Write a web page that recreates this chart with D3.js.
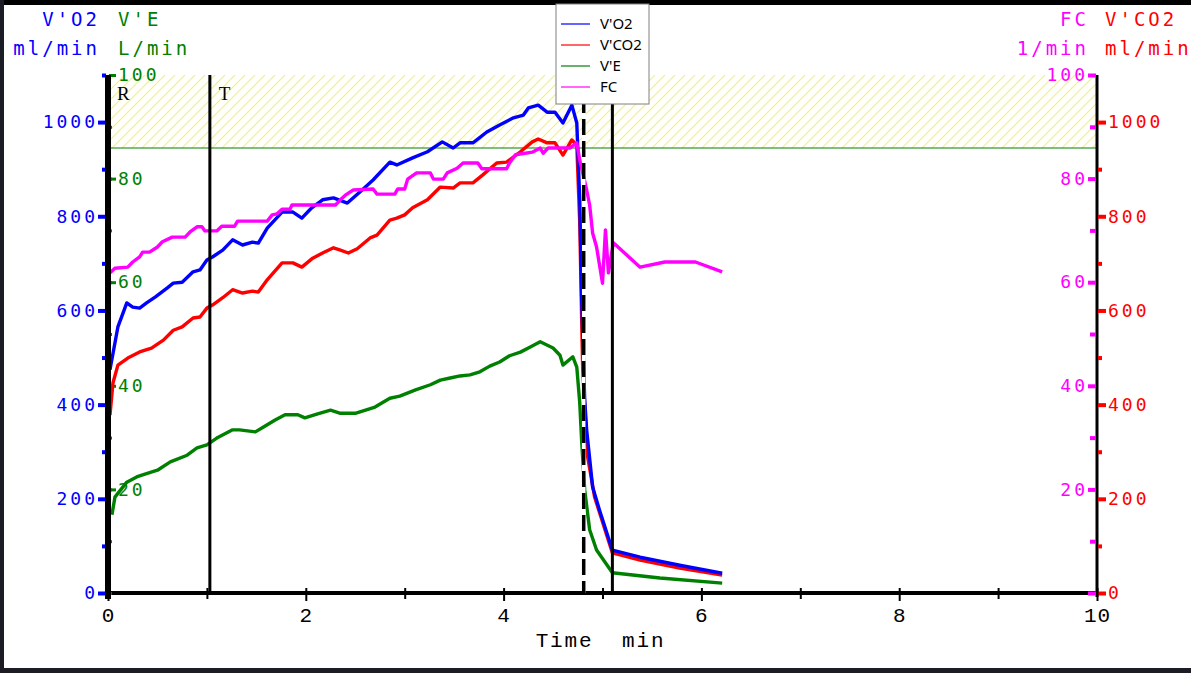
<!DOCTYPE html>
<html lang="en">
  <head>
    <meta charset="UTF-8" />
    <title>Cardiopulmonary exercise test</title>
    <script src="https://d3js.org/d3.v7.min.js"></script>
    <style>
      body { margin: 0; background: #fff; }
      svg { display: block; }
      .mono { font-family: "DejaVu Sans Mono", monospace; }
      .xlab { font-family: "Liberation Mono", monospace; }
    </style>
  </head>
  <body>
    <svg width="1191" height="673"></svg>
    <script>
      // time (min) and values
      const vo2T = [0.02,0.07,0.10,0.19,0.25,0.32,0.39,0.48,0.60,0.66,0.75,0.86,0.93,1.00,1.06,1.16,1.26,1.36,1.46,1.52,1.61,1.76,1.87,1.96,2.06,2.17,2.28,2.42,2.55,2.68,2.85,2.92,3.08,3.23,3.38,3.49,3.56,3.69,3.83,3.96,4.10,4.20,4.25,4.35,4.44,4.52,4.60,4.69,4.74,4.77,4.79,4.82,4.84,4.90,4.97,5.10,5.38,5.78,6.21];
      const vo2 = [474,531,565,616,607,605,616,629,648,658,660,682,686,707,714,728,750,739,745,743,775,809,809,796,818,835,839,828,852,877,915,909,924,937,958,945,956,956,979,994,1009,1015,1030,1036,1021,1021,998,1036,998,835,622,410,346,225,176,91,76,59,42];

      const vco2T = [0.02,0.05,0.10,0.20,0.32,0.44,0.56,0.66,0.75,0.86,0.93,1.00,1.06,1.16,1.26,1.36,1.46,1.52,1.61,1.76,1.87,1.96,2.07,2.17,2.28,2.35,2.43,2.52,2.65,2.72,2.85,2.92,3.00,3.08,3.23,3.36,3.49,3.56,3.69,3.79,3.93,4.03,4.17,4.29,4.35,4.44,4.52,4.60,4.69,4.74,4.77,4.79,4.80,4.85,4.92,5.10,5.38,5.78,6.21];
      const vco2 = [378,446,484,499,512,520,537,558,565,584,586,605,612,627,644,637,641,639,665,701,701,692,711,722,733,728,722,731,754,760,792,796,803,818,835,862,860,871,871,888,913,915,937,958,964,956,956,930,962,951,786,573,474,289,204,85,70,53,38];

      const veT = [0.04,0.07,0.19,0.29,0.35,0.50,0.63,0.80,0.90,1.00,1.10,1.26,1.33,1.49,1.56,1.69,1.79,1.92,1.99,2.12,2.25,2.35,2.50,2.70,2.85,2.95,3.11,3.26,3.36,3.46,3.56,3.66,3.76,3.86,3.96,4.06,4.17,4.27,4.37,4.50,4.57,4.60,4.70,4.74,4.77,4.79,4.82,4.87,4.94,5.10,5.58,6.21];
      const ve = [15.1,18.5,21.4,22.4,22.8,23.7,25.3,26.6,28.0,28.6,29.9,31.5,31.5,31.1,31.9,33.4,34.4,34.4,33.8,34.6,35.3,34.7,34.7,35.9,37.6,38.0,39.2,40.2,41.1,41.5,41.9,42.1,42.7,43.8,44.6,45.8,46.5,47.5,48.5,47.3,45.9,44.0,45.6,43.6,36.7,29.0,19.9,12.2,8.3,3.9,2.9,1.9];

      const fcT = [0.02,0.07,0.20,0.25,0.32,0.35,0.42,0.50,0.55,0.65,0.78,0.83,0.90,0.95,0.98,1.10,1.15,1.28,1.31,1.61,1.66,1.71,1.76,1.84,1.86,2.30,2.35,2.40,2.48,2.68,2.72,2.90,2.93,3.00,3.03,3.12,3.26,3.29,3.39,3.43,3.53,3.59,3.74,3.78,4.03,4.06,4.12,4.29,4.37,4.40,4.45,4.67,4.74,4.77,4.84,4.87,4.90,4.94,5.00,5.03,5.06,5.11,5.38,5.63,5.94,6.21];
      const fc = [61.8,62.7,62.9,63.9,64.9,65.8,65.8,66.8,67.8,68.7,68.7,69.7,70.7,70.7,69.9,69.9,70.8,70.8,71.8,71.8,73.0,73.2,74.1,74.1,74.9,74.9,75.9,76.8,77.8,78.0,77.0,77.0,78.0,78.0,79.9,81.1,81.1,79.9,79.9,81.1,82.0,83.0,83.0,81.9,81.9,83.0,84.6,85.1,85.9,84.9,85.9,85.9,86.9,83.6,77.8,74.9,69.5,66.8,59.8,70.1,61.8,67.6,62.9,63.9,63.9,62.0];

      const eventT = [0, 1.03, 4.81, 5.10];
      const eventLabel = ["R", "T", "", ""];
      const thresholdVO2 = 945;
      const xTicks = [0, 2, 4, 6, 8, 10];
      const legendNames = ["V'O2", "V'CO2", "V'E", "FC"];

      const BLUE = "#0000ff", RED = "#ff0000", GREEN = "#008000", MAG = "#ff00ff";

      const svg = d3.select("svg");
      const pL = 108, pR = 1097, pT = 75, pB = 593;

      const x = d3.scaleLinear().domain([0, 10]).range([pL, pR]);
      const yFlow = d3.scaleLinear().domain([0, 1100]).range([pB, pT]); // V'O2, V'CO2
      const yPct = d3.scaleLinear().domain([0, 100]).range([pB, pT]);   // V'E, FC
      const fmt = d3.format("d");

      // screen frame bits
      svg.append("rect").attr("x", 0).attr("y", 0).attr("width", 1191).attr("height", 5).attr("fill", "#000");
      svg.append("rect").attr("x", 0).attr("y", 0).attr("width", 4).attr("height", 673).attr("fill", "#1c1c24");
      svg.append("rect").attr("x", 0).attr("y", 668).attr("width", 1191).attr("height", 5).attr("fill", "#1c1c24");

      // hatched zone above threshold
      const defs = svg.append("defs");
      const pat = defs.append("pattern").attr("id", "hatch").attr("patternUnits", "userSpaceOnUse")
        .attr("width", 10).attr("height", 10);
      pat.append("path").attr("d", "M-2,12 L12,-2 M-2,2 L2,-2 M8,12 L12,8")
        .attr("stroke", "#f2f270").attr("stroke-width", 1.1);
      svg.append("rect")
        .attr("x", x(0)).attr("y", yFlow(1100))
        .attr("width", x(10) - x(0)).attr("height", yFlow(thresholdVO2) - yFlow(1100))
        .attr("fill", "url(#hatch)");
      svg.append("line")
        .attr("x1", x(0)).attr("x2", x(10))
        .attr("y1", yFlow(thresholdVO2)).attr("y2", yFlow(thresholdVO2))
        .attr("stroke", GREEN).attr("stroke-width", 1.2);

      // axis frame
      svg.append("line").attr("x1", x(0)).attr("x2", x(10)).attr("y1", pB).attr("y2", pB)
        .attr("stroke", "#000").attr("stroke-width", 4);
      svg.append("line").attr("x1", pR).attr("x2", pR).attr("y1", pT).attr("y2", pB + 4)
        .attr("stroke", "#000").attr("stroke-width", 3);

      function styleAxis(g, color, width) {
        g.select(".domain").remove();
        g.selectAll(".tick line").attr("stroke", color).attr("stroke-width", width);
        g.selectAll(".tick text").attr("fill", color).attr("class", "mono").attr("font-size", 18)
          .attr("letter-spacing", 3);
      }

      // left V'O2 axis
      svg.append("g").attr("transform", `translate(${pL - 2},0)`)
        .call(d3.axisLeft(yFlow).tickValues([100, 300, 500, 700, 900, 1100]).tickSize(4).tickFormat(""))
        .call(g => styleAxis(g, BLUE, 4));
      svg.append("g").attr("transform", `translate(${pL - 2},0)`)
        .call(d3.axisLeft(yFlow).tickValues(d3.range(0, 1001, 200)).tickSize(8).tickPadding(0).tickFormat(fmt))
        .call(g => styleAxis(g, BLUE, 4));

      // left V'E axis (inside)
      svg.append("g").attr("transform", `translate(${pL + 1},0)`)
        .call(d3.axisRight(yPct).tickValues(d3.range(0, 101, 10)).tickSize(3).tickFormat(""))
        .call(g => styleAxis(g, GREEN, 3));
      svg.append("g").attr("transform", `translate(${pL + 3},0)`)
        .call(d3.axisRight(yPct).tickValues([20, 40, 60, 80, 100]).tickSize(5).tickPadding(2).tickFormat(fmt))
        .call(g => styleAxis(g, GREEN, 3));

      // right FC axis (inside)
      svg.append("g").attr("transform", `translate(${pR - 1},0)`)
        .call(d3.axisLeft(yPct).tickValues([10, 30, 50, 70, 90]).tickSize(6).tickFormat(""))
        .call(g => styleAxis(g, MAG, 4));
      svg.append("g").attr("transform", `translate(${pR - 1},0)`)
        .call(d3.axisLeft(yPct).tickValues(d3.range(0, 101, 20)).tickSize(8).tickPadding(0)
          .tickFormat(d => d === 0 ? "" : fmt(d)))
        .call(g => styleAxis(g, MAG, 4));

      // right V'CO2 axis
      svg.append("g").attr("transform", `translate(${pR + 1},0)`)
        .call(d3.axisRight(yFlow).tickValues([100, 300, 500, 700, 900]).tickSize(4).tickFormat(""))
        .call(g => styleAxis(g, RED, 4));
      svg.append("g").attr("transform", `translate(${pR + 1},0)`)
        .call(d3.axisRight(yFlow).tickValues(d3.range(0, 1001, 200)).tickSize(8).tickPadding(2).tickFormat(fmt))
        .call(g => styleAxis(g, RED, 4));

      // time axis
      const xg = svg.append("g").attr("transform", `translate(0,${pB})`)
        .call(d3.axisBottom(x).tickValues([1, 3, 5, 7, 9]).tickSize(6).tickFormat(""));
      xg.select(".domain").remove();
      xg.selectAll(".tick line").attr("stroke", "#000").attr("stroke-width", 2).attr("y1", -5);
      const xg2 = svg.append("g").attr("transform", `translate(0,${pB})`)
        .call(d3.axisBottom(x).tickValues(xTicks).tickSize(8).tickPadding(6).tickFormat(fmt));
      xg2.select(".domain").remove();
      xg2.selectAll(".tick line").attr("stroke", "#000").attr("stroke-width", 2).attr("y1", -5);
      xg2.selectAll(".tick text").attr("class", "xlab").attr("font-size", 21).attr("fill", "#000")
        .attr("letter-spacing", 1);

      svg.append("text").attr("class", "xlab").attr("x", x(5) - 2).attr("y", 647)
        .attr("text-anchor", "middle").attr("font-size", 21).attr("fill", "#000")
        .attr("letter-spacing", 1.8).attr("xml:space", "preserve").text("Time  min");

      // axis titles
      const titles = [
        { t: "V'O2", x: 100, y: 26, c: BLUE, a: "end" },
        { t: "ml/min", x: 100, y: 55, c: BLUE, a: "end" },
        { t: "V'E", x: 118, y: 26, c: GREEN, a: "start" },
        { t: "L/min", x: 118, y: 55, c: GREEN, a: "start" },
        { t: "FC", x: 1089, y: 26, c: MAG, a: "end" },
        { t: "1/min", x: 1089, y: 55, c: MAG, a: "end" },
        { t: "V'CO2", x: 1105, y: 26, c: RED, a: "start" },
        { t: "ml/min", x: 1105, y: 55, c: RED, a: "start" }
      ];
      svg.selectAll("text.title").data(titles).enter().append("text")
        .attr("class", "mono title").attr("x", d => d.x).attr("y", d => d.y)
        .attr("text-anchor", d => d.a).attr("fill", d => d.c)
        .attr("font-size", 19).attr("letter-spacing", 3).text(d => d.t);

      // data lines
      const series = [
        { t: veT, v: ve, y: yPct, c: GREEN },
        { t: vco2T, v: vco2, y: yFlow, c: RED },
        { t: vo2T, v: vo2, y: yFlow, c: BLUE },
        { t: fcT, v: fc, y: yPct, c: MAG }
      ];
      series.forEach(s => {
        const line = d3.line().x(d => x(d[0])).y(d => s.y(d[1]));
        svg.append("path").datum(d3.zip(s.t, s.v)).attr("d", line)
          .attr("fill", "none").attr("stroke", s.c).attr("stroke-width", 3.4)
          .attr("stroke-linejoin", "round");
      });

      // event markers
      eventT.forEach((t, i) => {
        const lx = x(t);
        if (i === 0) {
          svg.append("line").attr("x1", lx).attr("x2", lx).attr("y1", pT).attr("y2", pB + 6)
            .attr("stroke", "#000").attr("stroke-width", 6);
        } else if (i === 2) {
          svg.append("line").attr("x1", lx).attr("x2", lx).attr("y1", pT).attr("y2", pB)
            .attr("stroke", "#fff").attr("stroke-width", 3.5);
          svg.append("line").attr("x1", lx).attr("x2", lx).attr("y1", pT).attr("y2", pB)
            .attr("stroke", "#000").attr("stroke-width", 3.5).attr("stroke-dasharray", "16,6");
        } else {
          svg.append("line").attr("x1", lx).attr("x2", lx).attr("y1", pT).attr("y2", pB)
            .attr("stroke", "#000").attr("stroke-width", 3);
        }
        if (eventLabel[i]) {
          svg.append("text").attr("x", lx + 9).attr("y", 100)
            .attr("font-family", "Liberation Serif, serif").attr("font-size", 19)
            .attr("fill", "#000").text(eventLabel[i]);
        }
      });

      // legend
      const colors = [BLUE, RED, GREEN, MAG];
      const lg = svg.append("g").attr("transform", "translate(556,4)");
      lg.append("rect").attr("width", 93).attr("height", 100).attr("fill", "#fff")
        .attr("stroke", "#808080").attr("stroke-width", 1);
      legendNames.forEach((n, i) => {
        const yy = 20 + i * 21;
        lg.append("line").attr("x1", 5).attr("x2", 34).attr("y1", yy).attr("y2", yy)
          .attr("stroke", colors[i]).attr("stroke-width", 1.2);
        lg.append("text").attr("x", 44).attr("y", yy + 5).attr("font-family", "Noto Sans, sans-serif")
          .attr("font-size", 15).attr("fill", "#000").text(n);
      });
    </script>
  </body>
</html>
